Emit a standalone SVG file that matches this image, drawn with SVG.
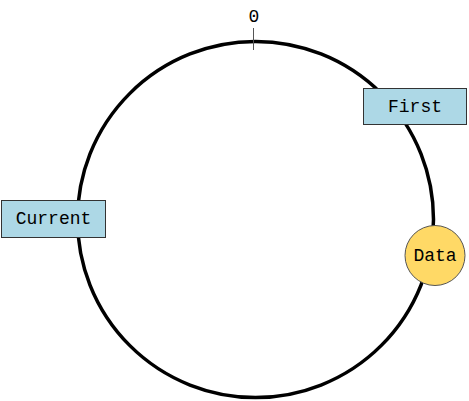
<svg xmlns="http://www.w3.org/2000/svg" width="469" height="401" viewBox="0 0 469 401">
<style>
.lbl{font-family:"Liberation Mono","DejaVu Sans Mono",monospace;font-size:18px;fill:#000;text-anchor:middle;dominant-baseline:central}
.box{fill:#add8e6;stroke:#333;stroke-width:1}
</style>
<rect width="469" height="401" fill="#fff"/>
<g id="connectors">
<circle id="ring" cx="255.5" cy="219.5" r="178" fill="none" stroke="#000" stroke-width="3.5"/>
<line x1="253.5" y1="28" x2="253.5" y2="50" stroke="#555" stroke-width="1"/>
</g>
<g id="zero"><text class="lbl" x="254" y="17">0</text></g>
<g id="first"><rect class="box" x="363.5" y="88.5" width="103" height="36"/><text class="lbl" x="415" y="106.5">First</text></g>
<g id="current"><rect class="box" x="1.5" y="200.5" width="104" height="37"/><text class="lbl" x="53.5" y="219">Current</text></g>
<g id="data"><circle cx="435" cy="255.5" r="30" fill="#ffd966" stroke="#555" stroke-width="1"/><text class="lbl" x="435" y="256">Data</text></g>
</svg>
